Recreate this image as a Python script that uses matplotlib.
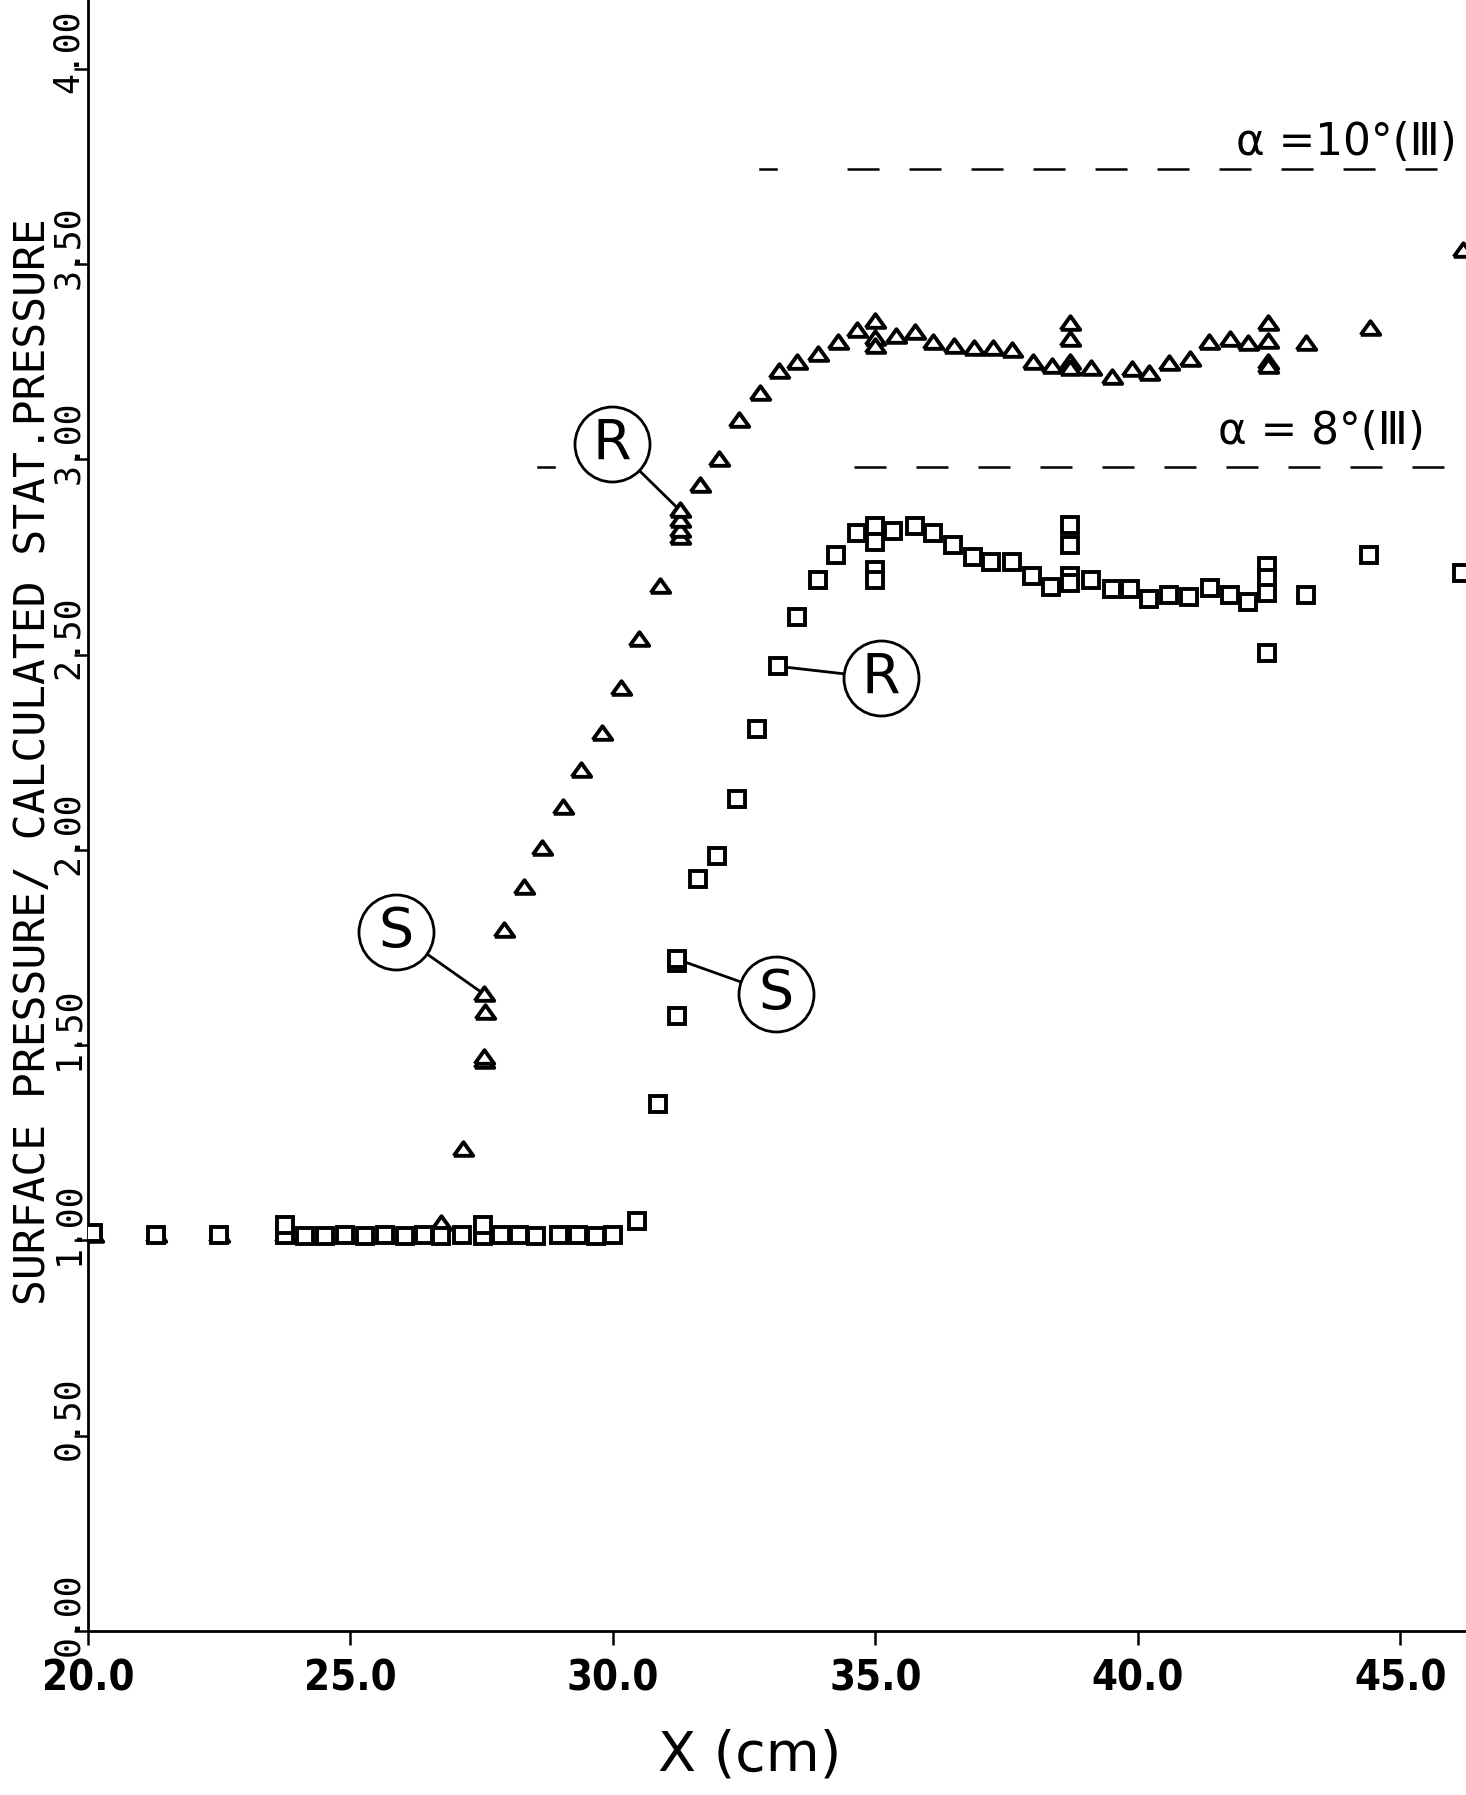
import matplotlib
matplotlib.use("Agg")
import matplotlib.pyplot as plt
from matplotlib.transforms import ScaledTranslation

# alpha = 10 deg (triangles)
tri_x = [20.1, 21.3, 22.5, 23.75, 24.13, 24.51, 24.89, 25.27, 25.65, 26.03, 26.41, 26.73,
         27.15, 27.55, 27.55, 27.56, 27.55, 27.93, 28.3, 28.65, 29.05, 29.4, 29.8, 30.15,
         30.5, 30.9, 31.27, 31.27, 31.27, 31.27, 31.66, 32.03, 32.4, 32.8, 33.16, 33.5,
         33.9, 34.28, 34.65, 35.0, 35.0, 35.0, 35.4, 35.76, 36.1, 36.5, 36.87, 37.24,
         37.6, 38.0, 38.37, 38.7, 38.7, 38.7, 38.7, 39.1, 39.5, 39.88, 40.22, 40.6,
         40.99, 41.36, 41.75, 42.1, 42.47, 42.47, 42.47, 42.47, 43.21, 44.43, 46.2]
tri_y = [1.015, 1.015, 1.015, 1.015, 1.01, 1.01, 1.015, 1.01, 1.015, 1.01, 1.015, 1.045,
         1.235, 1.46, 1.47, 1.585, 1.63, 1.795, 1.905, 2.005, 2.11, 2.205, 2.30, 2.415,
         2.54, 2.675, 2.80, 2.82, 2.845, 2.87, 2.935, 3.00, 3.10, 3.17, 3.225, 3.25,
         3.27, 3.30, 3.33, 3.355, 3.31, 3.29, 3.315, 3.325, 3.30, 3.29, 3.285, 3.285,
         3.28, 3.25, 3.24, 3.35, 3.308, 3.25, 3.233, 3.233, 3.21, 3.23, 3.22, 3.247,
         3.256, 3.30, 3.308, 3.297, 3.35, 3.303, 3.25, 3.24, 3.297, 3.335, 3.537]

# alpha = 8 deg (squares)
sq_x = [20.1, 21.3, 22.5, 23.75, 23.75, 24.13, 24.51, 24.89, 25.27, 25.65, 26.03, 26.41,
        26.73, 27.12, 27.52, 27.52, 27.87, 28.22, 28.54, 28.98, 29.33, 29.68, 30.0, 30.46,
        30.85, 31.22, 31.22, 31.22, 31.62, 31.99, 32.36, 32.75, 33.14, 33.51, 33.9, 34.25,
        34.65, 35.0, 35.0, 35.0, 35.0, 35.34, 35.76, 36.1, 36.48, 36.85, 37.2, 37.6,
        37.98, 38.35, 38.7, 38.7, 38.7, 38.7, 39.1, 39.5, 39.85, 40.22, 40.6, 40.97,
        41.38, 41.75, 42.09, 42.45, 42.45, 42.45, 42.45, 43.21, 44.41, 46.18]
sq_y = [1.02, 1.015, 1.015, 1.015, 1.04, 1.01, 1.01, 1.015, 1.01, 1.015, 1.01, 1.015,
        1.01, 1.015, 1.01, 1.04, 1.015, 1.015, 1.01, 1.015, 1.015, 1.01, 1.015, 1.05,
        1.35, 1.575, 1.71, 1.72, 1.925, 1.985, 2.13, 2.31, 2.47, 2.595, 2.69, 2.755,
        2.81, 2.828, 2.787, 2.716, 2.69, 2.816, 2.828, 2.81, 2.78, 2.75, 2.737, 2.737,
        2.70, 2.672, 2.831, 2.781, 2.70, 2.684, 2.69, 2.667, 2.667, 2.643, 2.652, 2.648,
        2.67, 2.652, 2.634, 2.728, 2.696, 2.658, 2.505, 2.652, 2.755, 2.708]

# reference levels (dashed) and their labels
ref_levels = [3.742, 2.98]
ref_start = [34.45, 34.6]
ref_tick = [32.8, 28.57]
ref_labels = ["\u03b1 =10\u00b0(\u2162)", "\u03b1 = 8\u00b0(\u2162)"]
ref_label_x = [41.86, 41.53]
ref_label_y = [3.81, 3.07]

# circled annotations: letter, target point, circle centre
note_text = ["R", "R", "S", "S"]
note_x = [31.27, 33.14, 27.55, 31.22]
note_y = [2.87, 2.47, 1.63, 1.72]
circ_x = [29.98, 35.10, 25.86, 33.10]
circ_y = [3.04, 2.44, 1.79, 1.63]

x_ticks = [20, 25, 30, 35, 40, 45]
y_ticks = [0, 0.5, 1.0, 1.5, 2.0, 2.5, 3.0, 3.5, 4.0]

fig = plt.figure(figsize=(14.66, 17.95), dpi=100)
ax = fig.add_axes([0.06, 0.0914, 0.94, 0.9086])

ax.set_xlim(20, 46.25)
ax.set_ylim(0, 4.176)

tri_marker = [(-1, -0.65), (1, -0.65), (0, 0.75), (-1, -0.65)]
ax.plot(tri_x, tri_y, linestyle="none", marker=tri_marker, ms=14,
        mfc="white", mec="black", mew=2.8, zorder=3)
ax.plot(sq_x, sq_y, linestyle="none", marker="s", ms=12,
        mfc="white", mec="black", mew=2.8, zorder=3)

# dashed reference lines
for lev, x0, xt in zip(ref_levels, ref_start, ref_tick):
    ax.plot([x0, 46.25], [lev, lev], color="black", lw=1.8,
            linestyle=(0, (12.8, 12.0)), zorder=2)
    ax.plot([xt, xt + 0.3], [lev, lev], color="black", lw=1.8, zorder=2)

for txt, tx, ty in zip(ref_labels, ref_label_x, ref_label_y):
    ax.text(tx, ty, txt, fontsize=31.5, ha="left", va="center",
            family=["DejaVu Sans"], zorder=5)

# circled letters with leader lines
for txt, px, py, cx, cy in zip(note_text, note_x, note_y, circ_x, circ_y):
    ax.plot([px, cx], [py, cy], color="black", lw=2.0, zorder=2)
    ax.plot(cx, cy, marker="o", ms=54, mfc="white", mec="black", mew=2.0, zorder=4)
    ax.text(cx, cy, txt, fontsize=40, ha="center", va="center", zorder=5,
            family=["DejaVu Sans"])

# axes styling
ax.spines["top"].set_visible(False)
ax.spines["right"].set_visible(False)
ax.spines["left"].set_linewidth(2.0)
ax.spines["bottom"].set_linewidth(2.0)

ax.set_xticks(x_ticks)
ax.set_xticklabels([f"{v:.1f}" for v in x_ticks])
ax.set_yticks(y_ticks)
ax.set_yticklabels([f"{v:.2f}" for v in y_ticks])

ax.tick_params(axis="x", direction="out", length=10, width=1.8, pad=9)
ax.tick_params(axis="y", direction="out", length=10, width=1.8, pad=-8)

for lbl in ax.get_xticklabels():
    lbl.set_family(["DejaVu Sans"])
    lbl.set_fontstretch("condensed")
    lbl.set_fontweight("bold")
    lbl.set_fontsize(30)

shift = ScaledTranslation(0, 0.17, fig.dpi_scale_trans)
for lbl in ax.get_yticklabels():
    lbl.set_family(["DejaVu Sans Mono"])
    lbl.set_fontsize(25)
    lbl.set_rotation(90)
    lbl.set_va("center")
    lbl.set_transform(lbl.get_transform() + shift)

ax.set_ylabel("SURFACE PRESSURE/ CALCULATED STAT.PRESSURE", fontsize=31,
              family=["DejaVu Sans Mono"])
ax.yaxis.set_label_coords(-0.025, 0.533)

ax.set_xlabel("X (cm)", fontsize=40, family=["DejaVu Sans"])
ax.xaxis.set_label_coords(0.48, -0.06)

fig.savefig("out.png", dpi=100)
